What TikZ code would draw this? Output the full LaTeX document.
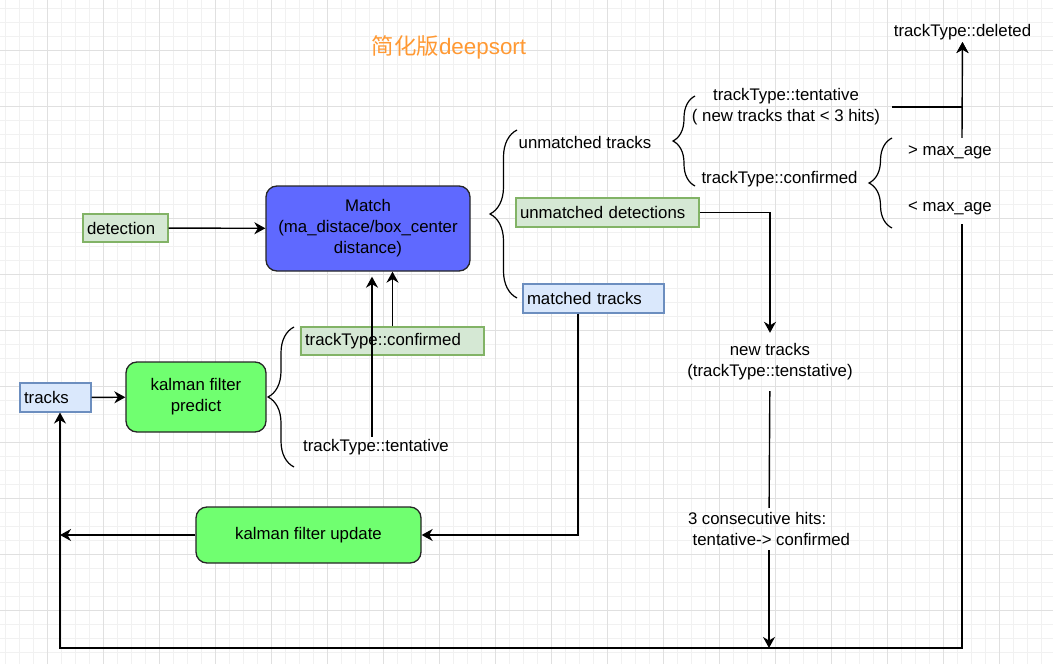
\documentclass[tikz,border=0pt]{standalone}
\usepackage{fontspec}
\setmainfont{Liberation Sans}
\newfontfamily\cjkfont{Noto Sans CJK SC}
\usepackage{tikz}
\usetikzlibrary{arrows.meta, positioning, decorations.pathreplacing}
\definecolor{matchcolor}{RGB}{95,105,255}
\definecolor{kalmancolor}{RGB}{112,255,112}
\definecolor{detfill}{RGB}{213,232,212}
\definecolor{detdraw}{RGB}{130,179,102}
\definecolor{trkfill}{RGB}{218,232,252}
\definecolor{trkdraw}{RGB}{108,142,191}
\definecolor{titlecolor}{RGB}{255,153,51}
\definecolor{minorgrid}{RGB}{241,241,241}
\definecolor{majorgrid}{RGB}{224,224,224}

\begin{document}
\begin{tikzpicture}[
    x=1pt, y=-1pt,
    font=\fontsize{16.8}{21}\selectfont,
    minorline/.style={draw=minorgrid, line width=1pt},
    majorline/.style={draw=majorgrid, line width=1pt},
    process/.style={draw=black!85, line width=1.3pt, fill=kalmancolor, rounded corners=11pt, align=center, inner sep=0pt},
    tag/.style={line width=1.1pt, inner xsep=4pt, inner ysep=0pt, minimum height=28pt, align=left},
    dettag/.style={tag, fill=detfill, draw=detdraw},
    trktag/.style={tag, fill=trkfill, draw=trkdraw},
    note/.style={align=center, inner sep=2pt},
    arrow/.style={-{Stealth[length=11pt, width=12pt, inset=3.5pt]}, line width=1.4pt},
    link/.style={line width=1.4pt},
    bracket/.style={decorate, decoration={brace, amplitude=#1, aspect=0.5}, line width=1.2pt}
]
    \useasboundingbox (0,0) rectangle (1053,664);
    % Grid
    \fill[white] (0,0) rectangle (1053,664);
    \foreach \gx in {5,19,...,1053} \draw[minorline] (\gx,0) -- (\gx,664);
    \foreach \gy in {8,22,...,664} \draw[minorline] (0,\gy) -- (1053,\gy);
    \foreach \gx in {47,103,...,1053} \draw[majorline] (\gx,0) -- (\gx,664);
    \foreach \gy in {50,106,...,664} \draw[majorline] (0,\gy) -- (1053,\gy);

    % Entities
    \node[text=titlecolor, font=\fontsize{22.4}{26}\selectfont] (title) at (449,47) {{\cjkfont 简化版}deepsort};
    \node[process, fill=matchcolor, minimum width=204pt, minimum height=85pt] (match) at (368,228.5) {Match\\(ma\_distace/box\_center\\distance)};
    \node[process, minimum width=140pt, minimum height=70pt] (predict) at (196,397) {kalman filter\\predict};
    \node[process, minimum width=225pt, minimum height=56pt] (update) at (308.5,535) {kalman filter update};
    \node[dettag, text width=77pt] (detection) at (125.5,228) {detection};
    \node[trktag, text width=63pt, minimum height=29pt] (tracks) at (55.5,397.5) {tracks};
    \node[dettag, text width=175pt] (confirmed) at (392.5,341) {trackType::confirmed};
    \node[note] (tentative) at (376,447) {trackType::tentative};
    \node[dettag, text width=175pt, minimum height=29pt] (unmdet) at (607.5,212.5) {unmatched detections};
    \node[trktag, text width=133pt, minimum height=29pt] (matched) at (593.5,298.5) {matched tracks};
    \node[note] (unmtracks) at (585,142) {unmatched tracks};
    \node[note] (newtent) at (786,107) {trackType::tentative\\( new tracks that < 3 hits)};
    \node[note] (oldconf) at (779.5,179) {trackType::confirmed};
    \node[note, minimum height=28pt] (gtage) at (950,152) {> max\_age};
    \node[note, minimum height=32pt] (ltage) at (950,208) {< max\_age};
    \node[note] (deleted) at (962.5,32) {trackType::deleted};
    \node[note, minimum height=58pt] (newtracks) at (770,362) {new tracks\\(trackType::tenstative)};
    \node[align=left, inner sep=0pt, minimum height=42pt] (hits) at (769,529) {3 consecutive hits:\\\ tentative-> confirmed};
    \coordinate (loopL) at (60,648);
    \coordinate (loopR) at (962,648);

    % Brackets
    \draw[bracket=26pt] (294,467) -- (294,327);
    \draw[bracket=27pt] (517,298) -- (517,130);
    \draw[bracket=22pt] (695,186) -- (695,96);
    \draw[bracket=23pt] (892,228) -- (892,138);

    % Relationships
    \draw[arrow] (detection) -- (match);
    \draw[arrow] (tracks) -- (predict);
    \draw[arrow] ([xshift=-4pt]tentative.north) -- ([xshift=-4pt, yshift=-5pt]tentative.north |- match.south);
    \draw[arrow] (confirmed) -- (confirmed |- match.south);
    \draw[arrow] (unmdet) -| (newtracks);
    \draw[link] (newtracks) -- (hits);
    \draw[arrow] (hits) -- (hits |- loopR);
    \draw[arrow] ([xshift=-15.5pt]matched.south) |- (update);
    \draw[arrow] (update) -- (update -| loopL);
    \draw[arrow] (loopR |- ltage.south) -- (loopR) -- (loopL) -- (loopL |- tracks.south);
    \draw[arrow] (loopR |- gtage.north) -- (deleted);
    \draw[arrow] ([xshift=10pt]newtent.east) -| (deleted);
\end{tikzpicture}
\end{document}
